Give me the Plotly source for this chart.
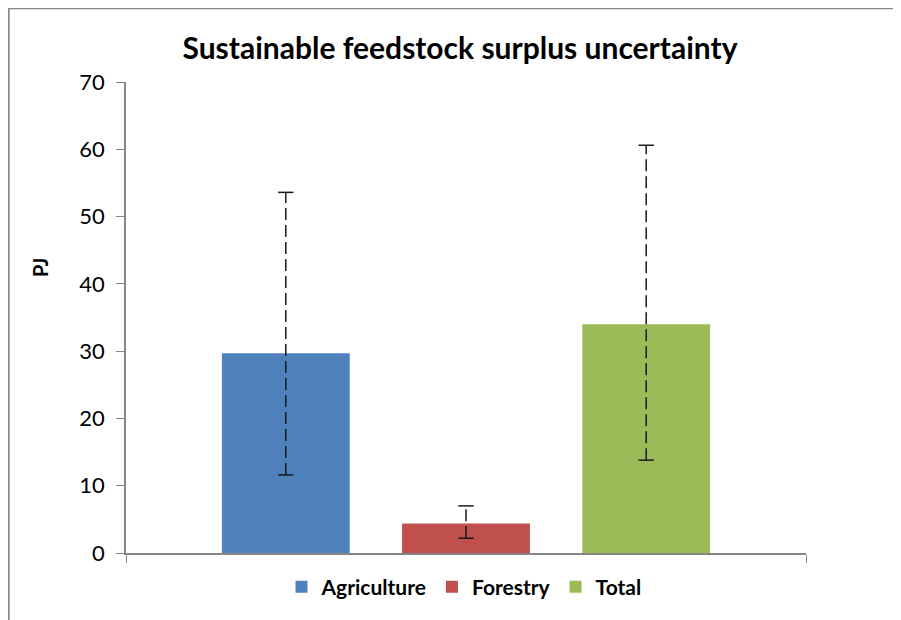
import plotly.graph_objects as go

# Data (PJ)
series_names = ["Agriculture", "Forestry", "Total"]
series_values = [29.7, 4.4, 34.0]
error_low = [11.6, 2.2, 13.8]
error_high = [53.6, 7.0, 60.6]
series_colors = ["#4f81bd", "#c0504d", "#9bbb59"]
y_ticks = [0, 10, 20, 30, 40, 50, 60, 70]

FONT = "Lato"
AXIS_GREY = "#868686"

# plot area in figure pixels (page adds an 8px body margin)
M_L, M_R, M_T, M_B = 118, 103, 74, 75
PLOT_W = 901 - M_L - M_R
PLOT_H = 620 - M_T - M_B

# One category spread over [0, 1]; bars placed symmetrically around the middle
bar_width = 0.188
bar_step = 0.265

fig = go.Figure()

for i, (name, val, col) in enumerate(zip(series_names, series_values, series_colors)):
    xc = 0.5 + (i - 1) * bar_step
    fig.add_trace(go.Bar(
        x=[xc],
        y=[val],
        width=bar_width,
        name="<b>" + name + "</b>",
        marker=dict(color=col, line=dict(width=0)),
        showlegend=True,
    ))

# Dashed error bars (plotly error_y can't be dashed, so draw them as lines)
for i, (lo, hi) in enumerate(zip(error_low, error_high)):
    xc = 0.5 + (i - 1) * bar_step
    fig.add_trace(go.Scatter(
        x=[xc, xc],
        y=[lo, hi],
        mode="lines+markers",
        line=dict(color="#1a1a1a", width=1.5, dash="12px,5px"),
        marker=dict(symbol="line-ew", size=11, line=dict(color="#1a1a1a", width=1.5)),
        showlegend=False,
        hoverinfo="skip",
    ))

# Outer frame: left and top edges of the figure
fx0 = -M_L / PLOT_W
fy1 = 1 + M_T / PLOT_H
shapes = [
    dict(type="line", xref="paper", yref="paper", x0=fx0 + 0.001, x1=fx0 + 0.001, y0=-0.3, y1=fy1,
         line=dict(color=AXIS_GREY, width=2)),
    dict(type="line", xref="paper", yref="paper", x0=fx0, x1=1.3, y0=fy1 - 0.001, y1=fy1 - 0.001,
         line=dict(color=AXIS_GREY, width=1.5)),
]

fig.update_layout(
    width=901,
    height=620,
    margin=dict(l=M_L, r=M_R, t=M_T, b=M_B),
    paper_bgcolor="white",
    plot_bgcolor="white",
    font=dict(family=FONT, color="black"),
    title=dict(
        text="<b>Sustainable feedstock surplus uncertainty</b>",
        x=(460 - 8) / 901, xanchor="center", y=1 - (48 - 8) / 620, yanchor="middle",
        font=dict(size=30, family=FONT),
    ),
    xaxis=dict(
        range=[0, 1],
        tickvals=[0, 1],
        ticktext=["", ""],
        ticks="outside",
        ticklen=8,
        tickcolor=AXIS_GREY,
        showline=True,
        linecolor=AXIS_GREY,
        linewidth=2,
        showgrid=False,
        zeroline=False,
        fixedrange=True,
    ),
    yaxis=dict(
        range=[0, 70],
        tickvals=y_ticks,
        ticks="outside",
        ticklen=8,
        tickcolor=AXIS_GREY,
        tickfont=dict(size=22, family=FONT),
        ticklabelstandoff=7,
        showline=True,
        linecolor=AXIS_GREY,
        linewidth=1.5,
        showgrid=False,
        zeroline=False,
    ),
    legend=dict(
        orientation="h",
        x=(464 - 126) / PLOT_W, xanchor="center",
        y=(553 - 587) / PLOT_H, yanchor="middle",
        font=dict(size=21, family=FONT),
        itemwidth=30,
        traceorder="normal",
    ),
    annotations=[
        dict(
            text="<b>PJ</b>", textangle=-90,
            xref="paper", yref="paper",
            x=(40 - 126) / PLOT_W, y=(553 - 268) / PLOT_H,
            xanchor="center", yanchor="middle", showarrow=False,
            font=dict(size=20, family=FONT),
        )
    ],
    shapes=shapes,
)

fig.write_html("out.html")
